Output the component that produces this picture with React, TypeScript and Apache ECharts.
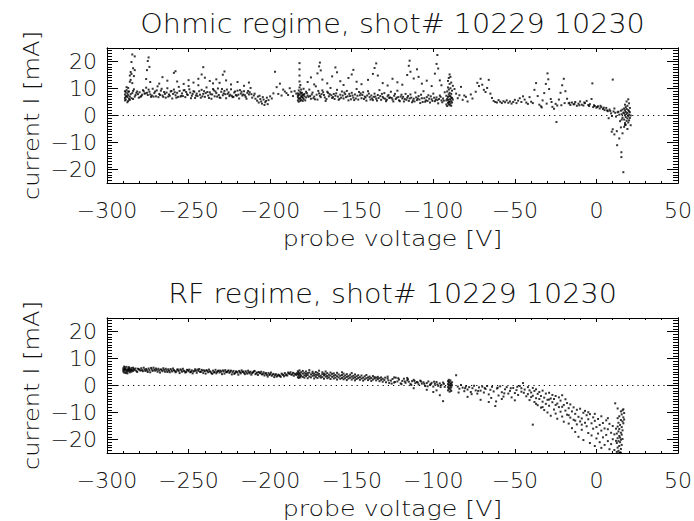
import React, { useEffect, useRef } from "react";
import * as echarts from "echarts";

// ---------- data (probe voltage [V], current [mA]) ----------
const xTicks = [-300, -250, -200, -150, -100, -50, 0, 50];
const yTicks = [-20, -10, 0, 10, 20];

// Ohmic regime
const ohmicStripeA = [[-289,6.5],[-289,7.8],[-288.5,8.6],[-288.5,5.9],[-288,7.2],[-288,9.4],[-287.5,6.8],[-287.5,8.1],[-287,5.4],[-287,7.5],[-287,10.2],[-286.5,6.2],[-286.5,8.9],[-286,7.0],[-286,12.5],[-286,14.8],[-285.5,13.2],[-285.5,16.1],[-285,15.4],[-285,19.8],[-284.5,22.6],[-284.5,12.0],[-284,17.5],[-284,9.1],[-283.5,14.6],[-283,21.9],[-283,16.8],[-282.5,7.6],[-282,8.4],[-289,9.0],[-288,10.5],[-287.5,4.9],[-289,5.6],[-288.5,7.1],[-287,8.8],[-286,5.8],[-285.5,7.9],[-285,6.4],[-284.5,8.3],[-284,6.1],[-283.5,9.7],[-283,7.0]];
const ohmicBandA = [[-281,7.9],[-280,8.6],[-279,7.2],[-278,9.4],[-277,8.1],[-276,10.3],[-275,7.6],[-274,8.8],[-273,6.9],[-272,9.9],[-271,8.3],[-270,7.1],[-269,10.8],[-268,8.0],[-267,9.2],[-266,7.4],[-265,8.7],[-264,6.6],[-263,10.1],[-262,7.8],[-261,8.9],[-260,6.3],[-259,9.6],[-258,7.5],[-257,8.4],[-256,10.6],[-255,7.0],[-254,8.2],[-253,9.3],[-252,6.8],[-251,7.9],[-250,10.9],[-249,8.5],[-248,7.3],[-247,9.0],[-246,6.5],[-245,8.1],[-244,11.2],[-243,7.7],[-242,9.5],[-241,8.0],[-240,6.9],[-239,10.4],[-238,7.4],[-237,8.6],[-236,6.2],[-235,9.8],[-234,7.1],[-233,8.3],[-232,10.0],[-231,6.7],[-230,8.8],[-229,7.5],[-228,9.1],[-227,6.4],[-226,8.0],[-225,7.2],[-224,9.7],[-223,6.8],[-222,8.5],[-221,7.6],[-220,9.2],[-219,6.3],[-218,8.1],[-217,7.4],[-216,9.0],[-215,6.9],[-214,8.4],[-213,7.8],[-212,10.2],[-211,6.6],
[-280.5,6.6],[-278.5,7.7],[-276.5,8.2],[-274.5,9.6],[-272.5,7.4],[-270.5,8.9],[-268.5,6.8],[-266.5,9.9],[-264.5,8.0],[-262.5,7.0],[-260.5,9.1],[-258.5,8.6],[-256.5,6.9],[-254.5,7.3],[-252.5,9.4],[-250.5,7.6],[-248.5,6.4],[-246.5,8.8],[-244.5,7.2],[-242.5,6.6],[-240.5,9.0],[-238.5,8.7],[-236.5,7.9],[-234.5,9.3],[-232.5,7.0],[-230.5,6.5],[-228.5,8.2],[-226.5,9.6],[-224.5,7.7],[-222.5,6.9],[-220.5,7.3],[-218.5,9.4],[-216.5,7.8],[-214.5,6.2],[-212.5,8.6]];
const ohmicBandA2 = [[-281.5,8.9],[-279.5,6.9],[-277.5,9.0],[-275.5,8.4],[-273.5,7.8],[-271.5,7.0],[-269.5,9.3],[-267.5,7.6],[-265.5,6.9],[-263.5,8.5],[-261.5,7.3],[-259.5,8.0],[-257.5,6.6],[-255.5,9.1],[-253.5,7.2],[-251.5,8.7],[-249.5,9.7],[-247.5,8.0],[-245.5,7.4],[-243.5,9.0],[-241.5,7.1],[-239.5,8.3],[-237.5,6.5],[-235.5,7.8],[-233.5,8.9],[-231.5,7.6],[-229.5,9.8],[-227.5,7.9],[-225.5,8.6],[-223.5,7.3],[-221.5,8.9],[-219.5,7.7],[-217.5,8.8],[-215.5,7.5],[-213.5,9.1],[-211.5,7.9]];
const ohmicSpikesA = [[-276,13.5],[-275.5,16.8],[-275,20.2],[-274.5,21.5],[-274,18.0],[-273.5,12.4],[-268,11.8],[-266,14.2],[-263,12.9],[-259,15.8],[-258,16.4],[-257,12.6],[-253,11.7],[-250,13.1],[-247,12.2],[-244,13.6],[-242,15.2],[-241,17.9],[-240,14.0],[-237,12.8],[-235,11.9],[-233,13.4],[-231,12.1],[-229,15.1],[-228,16.3],[-227,13.0],[-224,11.5],[-220,12.4],[-216,11.0],[-213,12.2]];
const ohmicDip = [[-210,7.4],[-209,6.2],[-208,5.5],[-207.5,7.0],[-207,4.8],[-206,6.1],[-205.5,5.2],[-205,4.4],[-204,5.9],[-203.5,3.9],[-203,4.9],[-202,6.6],[-201.5,4.2],[-201,5.7],[-200,7.1],[-199,6.3],[-198,8.2],[-209.5,8.1],[-206.5,7.3],[-204.5,6.8],[-202.5,5.4],
[-197,16.2],[-196,10.5],[-195,8.0],[-193,7.4],[-192,9.6],[-190,8.3],[-189,7.6],[-188,10.1],[-187,8.8],[-186,7.2],[-185,9.0],[-184,8.1],[-194,11.8],[-191,8.9]];
const ohmicStripeB = [[-183,5.6],[-183,6.8],[-183,8.2],[-182.5,7.5],[-182.5,9.3],[-182.5,5.1],[-182,6.2],[-182,7.9],[-182,10.4],[-182,12.6],[-182,14.8],[-182,17.1],[-182,19.4],[-181.5,8.7],[-181.5,6.5],[-181.5,11.3],[-181,7.2],[-181,5.8],[-181,9.6],[-180.5,6.9],[-180.5,8.4],[-180,7.6],[-180,5.4],[-179.5,9.9],[-179.5,6.1],[-179,8.0],[-179,7.1],[-178.5,5.6],[-178,8.8],[-178,6.7],[-183,7.4],[-182.5,6.3],[-181.5,5.4],[-181,8.1],[-180,6.6],[-179.5,7.7]];
const ohmicBandB = [[-177,7.4],[-176,9.6],[-175,6.2],[-174,8.5],[-173,7.0],[-172,10.8],[-171,5.9],[-170,8.2],[-169,6.8],[-168,9.3],[-167,7.6],[-166,5.4],[-165,8.8],[-164,7.1],[-163,10.2],[-162,6.5],[-161,8.0],[-160,7.3],[-159,9.5],[-158,5.8],[-157,7.7],[-156,8.9],[-155,6.3],[-154,7.9],[-153,9.1],[-152,5.6],[-151,7.2],[-150,8.4],[-149,6.6],[-148,7.8],[-147,9.8],[-146,5.9],[-145,7.5],[-144,6.4],[-143,8.6],[-142,7.0],[-141,5.5],[-140,9.0],[-139,6.8],[-138,7.4],[-137,5.7],[-136,8.1],[-135,6.2],[-134,7.6],[-133,9.4],[-132,5.8],[-131,6.9],[-130,8.3],[-129,5.3],[-128,7.1],[-127,6.5],[-126,8.8],[-125,5.9],[-124,7.3],[-123,6.1],[-122,9.2],[-121,5.6],[-120,7.0],[-119,6.3],[-118,5.2],[-117,8.0],[-116,6.6],[-115,5.4],[-114,7.8],[-113,4.9],[-112,6.2],[-111,8.5],[-110,5.7],[-109,7.2],[-108,4.6],[-107,6.4],[-106,9.0],[-105,5.1],[-104,6.8],[-103,7.5],[-102,4.8],[-101,6.0],[-100,8.1],[-99,5.3],[-98,6.7],[-97,4.5],[-96,7.4],[-95,5.6],[-94,6.3],[-93,8.6],
[-176.5,6.9],[-174.5,7.8],[-172.5,6.0],[-170.5,9.1],[-168.5,7.9],[-166.5,6.7],[-164.5,8.4],[-162.5,7.5],[-160.5,6.1],[-158.5,7.0],[-156.5,6.6],[-154.5,8.5],[-152.5,7.1],[-150.5,6.0],[-148.5,5.7],[-146.5,7.3],[-144.5,8.2],[-142.5,6.1],[-140.5,7.4],[-138.5,5.9],[-136.5,6.9],[-134.5,5.5],[-132.5,7.2],[-130.5,6.4],[-128.5,5.8],[-126.5,6.7],[-124.5,5.2],[-122.5,6.6],[-120.5,5.3],[-118.5,6.9],[-116.5,5.8],[-114.5,6.3],[-112.5,5.5],[-110.5,6.7],[-108.5,5.9],[-106.5,5.0],[-104.5,5.6],[-102.5,6.2],[-100.5,5.4],[-98.5,5.9],[-96.5,6.1],[-94.5,4.9]];
const ohmicBandB2 = [[-177.5,8.3],[-175.5,7.2],[-173.5,6.4],[-171.5,7.7],[-169.5,7.3],[-167.5,8.6],[-165.5,6.1],[-163.5,7.9],[-161.5,6.8],[-159.5,8.2],[-157.5,6.2],[-155.5,7.4],[-153.5,6.8],[-151.5,8.0],[-149.5,7.4],[-147.5,6.3],[-145.5,8.7],[-143.5,7.6],[-141.5,6.7],[-139.5,8.1],[-137.5,6.3],[-135.5,7.0],[-133.5,6.5],[-131.5,8.0],[-129.5,6.2],[-127.5,7.6],[-125.5,6.5],[-123.5,8.0],[-121.5,6.8],[-119.5,7.7],[-117.5,6.1],[-115.5,7.2],[-113.5,6.6],[-111.5,5.2],[-109.5,6.3],[-107.5,7.7],[-105.5,6.4],[-103.5,5.4],[-101.5,7.1],[-99.5,6.6],[-97.5,5.7],[-95.5,6.9],[-93.5,5.5]];
const ohmicSpikesB = [[-177,12.4],[-175,14.1],[-173,11.5],[-171,15.6],[-170,18.2],[-169.5,19.6],[-169,16.7],[-168,13.3],[-165,11.9],[-162,14.5],[-160,17.8],[-159,16.0],[-157,12.7],[-155,11.3],[-152,13.9],[-150,15.2],[-149,16.9],[-147,12.5],[-144,11.6],[-140,13.2],[-137,15.4],[-136,17.6],[-135,19.3],[-134,14.8],[-131,12.0],[-128,11.1],[-125,13.6],[-122,12.3],[-119,11.4],[-116,15.0],[-115,18.4],[-114.5,20.3],[-114,16.2],[-112,13.7],[-110,17.1],[-109,14.3],[-107,11.8],[-104,12.9],[-101,10.9],[-99,15.5],[-98,19.1],[-97.5,22.4],[-97,17.4],[-96,13.0],[-95,11.2]];
const ohmicStripeC = [[-92,4.1],[-92,5.6],[-92,7.3],[-91.5,3.5],[-91.5,6.2],[-91.5,8.9],[-91,4.7],[-91,6.9],[-91,10.4],[-91,12.8],[-90.5,5.1],[-90.5,7.8],[-90.5,9.6],[-90.5,13.9],[-90,3.8],[-90,6.0],[-90,8.4],[-90,11.7],[-90,15.2],[-89.5,4.4],[-89.5,7.1],[-89.5,10.1],[-89.5,14.3],[-89,5.3],[-89,8.0],[-89,12.2],[-89,3.6],[-88.5,6.5],[-88.5,9.2],[-88.5,4.8],[-88,5.9],[-88,11.0],[-91,5.8],[-90.5,4.2],[-90,5.0],[-90,7.2],[-89.5,5.9],[-89,6.6]];
const ohmicMid = [[-87,9.8],[-86,8.1],[-85,6.4],[-84,7.5],[-82,5.8],[-80,6.9],[-79,5.2],[-77,7.8],[-76,6.3],[-74,8.8],[-73,12.1],[-72,10.9],[-71,13.6],[-70,11.4],[-69,9.5],[-68,8.7],[-67,10.2],[-66,13.2],[-65,8.1],[-64,6.5],[-63,5.4],[-62,5.0],[-61,4.8],[-60,5.7],[-59,5.1],[-58,4.6],[-57,5.3],[-56,4.9],[-55,5.6],[-54,4.7],[-53,5.2],[-52,4.4],[-51,5.0],[-50,5.8],[-49,4.6],[-48,5.5],[-47,6.4],[-46,5.0],[-45,7.1],[-44,5.9],[-43,4.8],[-42,4.3],[-83,10.6],[-81,7.4]];
const ohmicRight = [[-41,6.8],[-40,5.1],[-39,4.6],[-38,9.5],[-37,12.0],[-36,7.2],[-35,4.0],[-34,3.4],[-33,5.6],[-32,8.3],[-31,11.7],[-30,15.6],[-29.5,13.4],[-29,9.8],[-28,6.1],[-27,3.2],[-26,2.5],[-25,4.3],[-24.5,-2.4],[-24,3.7],[-23,5.9],[-22,8.4],[-21,11.2],[-20,13.6],[-19,9.0],[-18,6.2],[-17,4.5],[-16,3.9],[-15,4.8],[-14,4.1],[-13,5.0],[-12,3.6],[-11,4.4],[-10,5.2],[-9,4.0],[-8,3.7],[-7,4.6],[-6,5.4],[-5,3.9],[-4,4.2],[-3,6.1],[-2.5,11.9],[-2,3.1],[-1,3.5],[0,2.9],[1,3.4],[2,2.6],[3,3.1],[4,2.4],[5,2.0],[6,2.8],[7,1.6],[8,2.2],[9,0.8],[10,13.3],[10.5,1.5],[11,2.6],[12,-0.4],[13,1.2],[14,0.3],[15,1.8],[16,-0.8],[-33.5,3.0],[-30.5,4.4],[-27.5,5.0],[-21.5,3.8],[-19.5,4.6],[-16.5,4.7],[-13.5,4.3],[-10.5,3.8],[-7.5,4.8],[-4.5,3.5],[-1.5,3.8],[0.5,3.2],[2.5,3.6],[4.5,2.9],[6.5,1.9],[8.5,1.7],[11.5,1.0],[13.5,1.4],[15.5,0.5],[9.5,-0.2],[7.5,-1.0]];
const ohmicNeg = [[9.4,-6.0],[10,-5.1],[11,-7.0],[12.7,-11.0],[15.3,-13.6],[15.3,-15.4],[14,-8.5],[15,-4.4],[16,-6.6],[16.5,-21.0],[17.5,-3.5],[12.5,-5.8],[14.5,-2.1]];
const ohmicStripeD = [[17,-4.2],[17,-1.5],[17,0.8],[17,2.6],[17.5,-2.8],[17.5,0.1],[17.5,1.9],[17.5,4.0],[18,-3.4],[18,-0.6],[18,1.3],[18,3.1],[18.5,-2.0],[18.5,0.5],[18.5,2.4],[18.5,5.2],[19,-5.0],[19,-1.1],[19,1.0],[19,3.6],[19.5,-2.6],[19.5,-0.3],[19.5,2.0],[19.5,6.0],[20,-1.8],[20,0.3],[20,1.6],[20,4.5],[20.5,-0.9],[20.5,1.2],[20.5,2.8],[21,0.0],[21,-3.6],[16.5,1.1],[16,2.2],[15.5,-1.5]];

// RF regime
const rfStripeA = [[-290,5.2],[-290,6.4],[-289.5,4.8],[-289.5,5.9],[-289.5,7.0],[-289,5.5],[-289,6.7],[-288.5,4.6],[-288.5,6.1],[-288,5.0],[-288,6.9],[-287.5,5.7],[-287.5,4.5],[-287,6.3],[-287,5.3],[-286.5,6.8],[-286.5,5.9],[-286,4.9],[-286,6.2],[-285.5,5.6],[-285,6.5],[-285,5.1],[-284.5,5.8],[-284,6.6],[-284,5.4],[-283.5,6.1],[-283,5.7],[-282.5,6.3],[-290,5.8],[-289,6.1],[-288,5.6],[-287,5.9],[-286,5.5],[-285,5.8]];
const rfBandA = [[-282,5.4],[-281,6.2],[-280,5.8],[-279,6.4],[-278,5.3],[-277,5.9],[-276,6.1],[-275,5.0],[-274,5.7],[-273,6.5],[-272,5.4],[-271,5.9],[-270,6.3],[-269,5.1],[-268,5.6],[-267,6.0],[-266,5.3],[-265,5.8],[-264,6.2],[-263,5.0],[-262,5.5],[-261,6.1],[-260,5.2],[-259,5.7],[-258,4.9],[-257,5.9],[-256,5.4],[-255,6.0],[-254,5.1],[-253,5.5],[-252,4.8],[-251,5.8],[-250,5.3],[-249,4.9],[-248,5.6],[-247,5.2],[-246,6.0],[-245,4.7],[-244,5.4],[-243,5.1],[-242,5.8],[-241,4.6],[-240,5.3],[-239,5.7],[-238,4.9],[-237,5.2],[-236,4.6],[-235,5.5],[-234,5.0],[-233,4.5],[-232,5.4],[-231,4.8],[-230,5.1],[-229,5.6],[-228,4.4],[-227,5.0],[-226,5.3],[-225,4.7],[-224,5.5],[-223,4.9],[-222,4.3],[-221,5.2],[-220,4.8],[-219,5.4],[-218,4.5],[-217,5.0],[-216,4.7],[-215,5.3],[-214,4.4],[-213,4.9],[-212,5.1],[-211,4.6],[-210,5.2],[-209,4.2],[-208,4.8],[-207,5.0],[-206,4.5],[-205,4.1],[-204,4.9],[-203,4.4],[-202,3.9],[-201,4.6],[-200,4.2],[-199,3.6],[-198,4.3],[-197,3.8],[-196,3.3],[-195,4.0],[-194,3.5],[-193,4.4],[-192,3.9],[-191,4.6],[-190,4.1],[-189,4.8],[-188,4.3],[-187,4.0],[-186,4.7],[-185,4.4],[-184,3.9],
[-281.5,5.0],[-279.5,5.5],[-277.5,6.6],[-275.5,5.6],[-273.5,4.9],[-271.5,6.6],[-269.5,5.8],[-267.5,4.8],[-265.5,6.4],[-263.5,5.6],[-261.5,4.9],[-259.5,6.3],[-257.5,5.2],[-255.5,4.6],[-253.5,6.2],[-251.5,5.0],[-249.5,5.9],[-247.5,4.5],[-245.5,5.5],[-243.5,6.1],[-241.5,5.5],[-239.5,4.4],[-237.5,5.9],[-235.5,4.3],[-233.5,5.8],[-231.5,5.5],[-229.5,4.2],[-227.5,5.7],[-225.5,5.6],[-223.5,4.1],[-221.5,4.6],[-219.5,4.0],[-217.5,5.6],[-215.5,4.2],[-213.5,5.5],[-211.5,4.0],[-209.5,5.4],[-207.5,3.9],[-205.5,5.1],[-203.5,3.7],[-201.5,3.3],[-199.5,4.8],[-197.5,3.1],[-195.5,3.6],[-193.5,3.2],[-191.5,3.4],[-189.5,3.7],[-187.5,4.9],[-185.5,3.6],[-183.5,4.6]];
const rfBandA2 = [[-280.5,6.0],[-278.5,5.7],[-276.5,5.4],[-274.5,6.3],[-272.5,5.9],[-270.5,5.5],[-268.5,6.2],[-266.5,5.7],[-264.5,5.1],[-262.5,6.0],[-260.5,5.6],[-258.5,5.4],[-256.5,5.9],[-254.5,5.6],[-252.5,5.3],[-250.5,5.7],[-248.5,5.1],[-246.5,5.4],[-244.5,5.9],[-242.5,5.0],[-240.5,5.6],[-238.5,5.4],[-236.5,5.1],[-234.5,4.8],[-232.5,5.0],[-230.5,5.5],[-228.5,5.2],[-226.5,4.9],[-224.5,5.1],[-222.5,5.4],[-220.5,5.1],[-218.5,4.9],[-216.5,5.2],[-214.5,4.8],[-212.5,4.5],[-210.5,4.9],[-208.5,4.5],[-206.5,4.7],[-204.5,4.3],[-202.5,4.6],[-200.5,3.9],[-198.5,4.0],[-196.5,4.2],[-194.5,3.8],[-192.5,4.1],[-190.5,3.8],[-188.5,4.5],[-186.5,4.1],[-184.5,4.2]];
const rfDenseB = [[-183,3.1],[-183,4.2],[-183,5.3],[-182.5,2.8],[-182.5,3.9],[-182.5,4.8],[-182,3.4],[-182,4.5],[-182,5.6],[-181.5,3.0],[-181.5,4.1],[-181,3.6],[-181,4.9],[-180,3.2],[-180,4.4],[-180,5.4],[-179,2.9],[-179,3.8],[-179,4.7],[-178,3.5],[-178,4.3],[-178,5.2],[-177,2.7],[-177,3.9],[-177,4.6],[-176,3.3],[-176,4.8],[-176,5.7],[-175,3.0],[-175,4.1],[-174,3.6],[-174,4.5],[-174,5.1],[-173,2.6],[-173,3.7],[-173,4.4],[-172,3.2],[-172,4.0],[-172,5.0],[-171,2.8],[-171,3.9],[-171,4.7],[-170,3.4],[-170,4.3],[-170,5.5],[-169,2.9],[-169,3.6],[-168,4.2],[-168,3.1],[-168,4.9],[-167,2.5],[-167,3.8],[-167,4.4],[-166,3.3],[-166,4.1],[-166,5.2],[-165,2.7],[-165,3.5],[-165,4.6],[-164,3.0],[-164,4.0],[-163,2.4],[-163,3.7],[-163,4.8],[-162,3.2],[-162,4.3],[-161,2.6],[-161,3.6],[-161,4.5],[-160,2.9],[-160,3.9],[-159,2.2],[-159,3.4],[-159,4.7],[-158,3.0],[-158,4.1],[-157,2.5],[-157,3.6],[-156,2.8],[-156,3.9],[-156,4.9],[-155,2.3],[-155,3.3],[-155,4.4],[-154,2.7],[-154,3.7],[-153,2.0],[-153,3.2],[-153,4.2],[-152,2.6],[-152,3.5],[-151,2.9],[-151,4.0],[-150,2.2],[-150,3.3],[-150,4.6],[-149,2.7],[-149,3.6],[-148,1.9],[-148,3.0],[-148,4.1],[-147,2.4],[-147,3.4],[-146,2.8],[-146,3.8],[-145,2.1],[-145,3.1],[-144,2.6],[-144,3.7],[-143,1.8],[-143,2.9],[-142,2.3],[-142,3.4],[-141,2.7],[-141,3.9],[-140,2.0],[-140,3.0],[-139,2.5],[-139,3.3],[-138,1.7],[-138,2.8],[-137,2.2],[-137,3.5],[-136,2.6],[-136,3.1],[-135,1.9],[-135,2.9],[-134,2.4],[-134,3.2],[-133,1.6],[-133,2.7],[-132,2.1],[-132,3.0],[-131,2.5],[-131,1.4]];
const rfBandC = [[-130,2.0],[-129,1.2],[-128,2.6],[-127,0.9],[-126,1.8],[-125,2.4],[-124,1.1],[-123,2.9],[-122,1.5],[-121,2.2],[-120,0.8],[-119,1.7],[-118,2.5],[-117,1.0],[-116,1.9],[-115,1.4],[-114,0.6],[-113,1.6],[-112,2.1],[-111,0.9],[-110,1.3],[-109,0.4],[-108,1.8],[-107,0.7],[-106,1.2],[-105,-0.2],[-104,0.9],[-103,1.5],[-102,0.3],[-101,1.0],[-100,-0.4],[-99,0.6],[-98,1.3],[-97,-0.1],[-96,0.8],[-95,0.2],[-94,1.1],[-93,-0.5],[-129.5,2.9],[-127.5,1.9],[-125.5,0.7],[-123.5,1.3],[-121.5,2.7],[-119.5,0.5],[-117.5,1.5],[-115.5,2.3],[-113.5,0.2],[-111.5,1.7],[-109.5,1.1],[-107.5,1.5],[-105.5,0.6],[-103.5,-0.3],[-101.5,0.5],[-99.5,1.4],[-97.5,0.4],[-95.5,-0.6],[-93.5,0.6],[-128,3.3],[-124,3.0],[-116,2.8],[-112,-1.0],[-104,-1.6],[-98,-1.8],[-96,-3.6],[-94,-5.8],[-100,-2.4]];
const rfStripeC = [[-91,-1.8],[-91,-0.6],[-91,0.5],[-91,1.6],[-90.5,-1.2],[-90.5,0.0],[-90.5,1.1],[-90.5,2.1],[-90,-2.3],[-90,-0.9],[-90,0.3],[-90,1.4],[-89.5,-1.5],[-89.5,-0.2],[-89.5,0.8],[-89.5,1.9],[-89,-0.7],[-89,0.6],[-89,-2.0],[-88.5,0.1],[-88.5,1.2]];
const rfMid = [[-86,3.8],[-85,-0.4],[-84,-1.2],[-83,0.2],[-82,-0.8],[-81,-2.1],[-80,-0.3],[-79,-1.5],[-78,-0.6],[-77,-2.4],[-76,-1.0],[-75,-0.1],[-74,-1.8],[-73,-3.0],[-72,-0.7],[-71,-1.9],[-70,-0.4],[-69,-2.6],[-68,-1.3],[-67,-0.2],[-66,-3.3],[-65,-1.6],[-64,-0.5],[-63,-2.2],[-62,-7.6],[-61.5,-5.9],[-61,-1.1],[-60,-3.7],[-59,-0.3],[-58,-2.5],[-57,-4.1],[-56,-1.4],[-55,-0.6],[-54,-3.0],[-53,-2.0],[-52,-4.4],[-51,-0.9],[-50,-2.8],[-49,-1.7],[-48,-3.5],[-47,-0.2],[-46,-2.3],[-45,0.9],[-44,-1.5],[-43,-4.0],[-84.5,-2.6],[-80.5,-1.0],[-76.5,-3.2],[-72.5,-2.0],[-68.5,-0.9],[-64.5,-4.6],[-60.5,-0.8],[-56.5,-2.9],[-52.5,-1.0],[-48.5,-0.5],[-44.5,-2.7],[-79,-4.2],[-71,-5.3],[-66,-6.1],[-58,-5.0],[-50,-5.5],[-46,-1.0],[-42,-0.6]];
const rfDrop = [[-42,-3.2],[-41,-1.8],[-41,-5.4],[-40,-2.6],[-40,-4.3],[-39,-14.5],[-39,-0.9],[-39,-3.8],[-38,-6.1],[-38,-2.0],[-37,-4.7],[-37,-1.4],[-36,-7.3],[-36,-3.1],[-35,-5.0],[-35,-2.4],[-34,-8.2],[-34,-3.9],[-33,-6.0],[-33,-1.9],[-32,-4.5],[-32,-9.1],[-31,-3.0],[-31,-6.8],[-30,-5.3],[-30,-10.0],[-29,-2.7],[-29,-7.5],[-28,-4.8],[-28,-11.2],[-27,-6.2],[-27,-3.5],[-26,-8.9],[-26,-5.0],[-25,-3.9],[-25,-10.4],[-24,-6.7],[-24,-12.3],[-23,-4.4],[-23,-8.0],[-22,-9.7],[-22,-5.6],[-21,-3.6],[-21,-11.5],[-20,-7.2],[-20,-13.4],[-19,-5.1],[-19,-9.3],[-18,-10.8],[-18,-6.5],[-17,-8.4],[-17,-14.1],[-16,-7.0],[-16,-11.9],[-15,-9.6],[-15,-15.8],[-14,-8.1],[-14,-12.7],[-13,-10.5],[-13,-17.2],[-12,-9.0],[-12,-14.4],[-11,-11.6],[-11,-19.0],[-10,-8.6],[-10,-13.3],[-9,-12.2],[-9,-16.4],[-8,-10.1],[-8,-20.2],[-7,-13.8],[-7,-9.4],[-6,-15.1],[-6,-11.0],[-5,-17.6],[-5,-12.5],[-4,-10.6],[-4,-21.3],[-3,-14.0],[-3,-18.5],[-2,-11.8],[-2,-16.0],[-1,-13.1],[-1,-22.4],[0,-15.4],[0,-19.6],[1,-12.4],[1,-17.8],[2,-14.6],[2,-21.0],[3,-16.7],[3,-23.1],[4,-13.9],[4,-19.2],[5,-15.9],[5,-22.0],[6,-18.3],[6,-12.9],[7,-20.6],[7,-16.2],[8,-14.2],[8,-23.6],[9,-17.5],[9,-21.7],[10,-19.9],[10,-15.0],[11,-23.9],[11,-18.1],[-37,-6.8],[-33,-8.0],[-29,-5.2],[-25,-7.2],[-21,-7.9],[-17,-11.0],[-13,-13.0],[-9,-14.5],[-5,-9.9],[-1,-10.5],[3,-11.4],[7,-12.1],[11.5,-6.6]];
const rfStripeD = [[12.5,-24.6],[12.5,-21.3],[12.5,-17.8],[13,-23.0],[13,-19.5],[13,-15.2],[13,-12.1],[13.5,-24.2],[13.5,-20.6],[13.5,-17.0],[13.5,-13.8],[14,-22.4],[14,-18.7],[14,-16.1],[14,-11.4],[14.5,-24.8],[14.5,-21.0],[14.5,-19.3],[14.5,-14.6],[15,-23.5],[15,-20.1],[15,-17.5],[15,-12.8],[15,-9.6],[15.5,-22.0],[15.5,-18.2],[15.5,-15.4],[15.5,-10.7],[16,-19.8],[16,-16.6],[16,-13.3],[16,-9.2],[16.5,-14.0],[16.5,-11.8],[16.5,-8.8],[17,-12.6],[17,-10.2],[13,-8.5],[14,-25.0],[15,-24.9],[12,-20.5],[12,-16.0]];

const ohmicPoints = [...ohmicStripeA, ...ohmicBandA, ...ohmicBandA2, ...ohmicSpikesA, ...ohmicDip, ...ohmicStripeB, ...ohmicBandB, ...ohmicBandB2, ...ohmicSpikesB, ...ohmicStripeC, ...ohmicMid, ...ohmicRight, ...ohmicNeg, ...ohmicStripeD];
const rfPoints = [...rfStripeA, ...rfBandA, ...rfBandA2, ...rfDenseB, ...rfBandC, ...rfStripeC, ...rfMid, ...rfDrop, ...rfStripeD];

const titles = ["Ohmic regime, shot# 10229 10230", "RF regime, shot# 10229 10230"];
const xName = "probe voltage [V]";
const yName = "current I [mA]";

// ---------- layout ----------
const FONT = '"DejaVu Sans", sans-serif';
const W = 694, H = 521;
const GL = 107, GW = 571, GH = 135;
const GT = [48, 318];
const minus = (v: number) => String(v).replace("-", "\u2212");

function buildOption() {
  const grids = GT.map((t) => ({ left: GL, top: t, width: GW, height: GH, containLabel: false, outerBoundsMode: "none" }));
  const xAxes: any[] = [];
  const yAxes: any[] = [];
  const line = { show: true, onZero: false, lineStyle: { color: "#000", width: 1 } };
  const labelFont = { color: "#111", fontSize: 22, fontFamily: FONT, fontWeight: 200 };
  GT.forEach((_, g) => {
    ["bottom", "top"].forEach((pos, k) => {
      xAxes.push({
        type: "value", gridIndex: g, position: pos, min: -300, max: 50, interval: 50,
        axisLine: line,
        axisTick: { show: true, inside: true, length: 4, lineStyle: { color: "#000" } },
        minorTick: { show: true, splitNumber: 5, length: 2, lineStyle: { color: "#000" } },
        splitLine: { show: false }, minorSplitLine: { show: false },
        axisLabel: k === 0 ? { show: true, margin: 16, ...labelFont, formatter: minus, customValues: xTicks } : { show: false },
      });
    });
    ["left", "right"].forEach((pos, k) => {
      yAxes.push({
        type: "value", gridIndex: g, position: pos, min: -25, max: 25,
        axisLine: line,
        axisTick: { show: true, inside: true, length: 11, lineStyle: { color: "#000" }, customValues: yTicks },
        splitLine: { show: false },
        axisLabel: k === 0 ? { show: true, margin: 10, ...labelFont, formatter: minus, customValues: yTicks } : { show: false },
      });
      yAxes.push({
        type: "value", gridIndex: g, position: pos, min: -25, max: 25, interval: 1,
        axisLine: line,
        axisTick: { show: true, inside: true, length: 5, lineStyle: { color: "#000" } },
        splitLine: { show: false },
        axisLabel: { show: false },
      });
    });
  });

  const textStyle = (size: number) => ({ fill: "#111", fontSize: size, fontFamily: FONT, fontWeight: 200, align: "center", verticalAlign: "middle" });
  const graphic: any[] = [];
  GT.forEach((t, g) => {
    graphic.push({ type: "text", x: GL + GW / 2, y: t - 24, scaleX: 1.1, style: { text: titles[g], ...textStyle(26) } });
    graphic.push({ type: "text", x: GL + GW / 2, y: t + GH + 56, scaleX: 1.15, style: { text: xName, ...textStyle(22) } });
    graphic.push({ type: "text", x: 31, y: t + GH / 2, rotation: Math.PI / 2, scaleX: 1.1, style: { text: yName, ...textStyle(22) } });
  });

  const series: any[] = [];
  [ohmicPoints, rfPoints].forEach((pts, g) => {
    series.push({
      type: "line", xAxisIndex: g * 2, yAxisIndex: g * 4, data: [[-300, 0], [50, 0]],
      showSymbol: false, silent: true, lineStyle: { color: "#000", width: 1, type: [1.2, 4] },
    });
    series.push({
      type: "scatter", xAxisIndex: g * 2, yAxisIndex: g * 4, data: pts,
      symbol: "rect", symbolSize: 2, itemStyle: { color: "#000" }, silent: true,
    });
  });

  return { animation: false, backgroundColor: "#fff", grid: grids, xAxis: xAxes, yAxis: yAxes, graphic, series };
}

export default function App() {
  const ref = useRef<HTMLDivElement>(null);
  useEffect(() => {
    if (!ref.current) return;
    const chart = echarts.init(ref.current, undefined, { renderer: "svg" });
    chart.setOption(buildOption() as any);
    return () => chart.dispose();
  }, []);
  return <div ref={ref} style={{ position: "fixed", left: 0, top: 0, width: W, height: H, background: "#fff" }} />;
}
